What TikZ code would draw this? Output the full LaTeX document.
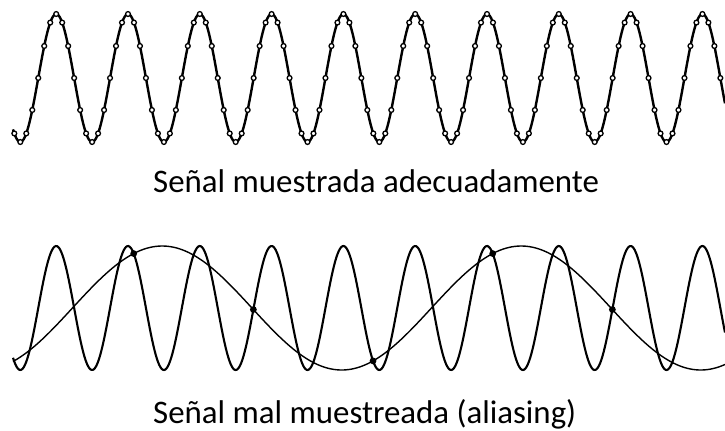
\documentclass[tikz,border=0pt]{standalone}
\usepackage{fontspec}
\setmainfont{Carlito}
\usetikzlibrary{positioning}
\tikzset{
  wave/.style={line width=2.1bp, black},
  alias/.style={line width=1.4bp, black},
  sample/.style={draw=black, fill=white, line width=1.3bp},
  hit/.style={fill=black},
  caption/.style={anchor=base west, inner sep=0pt, font=\fontsize{33}{36}\selectfont}
}
\newcommand{\per}{71.8}

\begin{document}
\begin{tikzpicture}[x=1bp, y=-1bp]
  \useasboundingbox (0,0) rectangle (725,430);

  % senal bien muestreada
  \draw[wave, line width=2.4bp, domain=13:725, samples=600]
    plot (\x, {78-64*cos(360/\per*(\x-128))});
  \foreach \k in {-1,...,117}
    \draw[sample] ({20.3+\k*\per/12}, {78+64*cos(30*\k)}) circle (2.4bp);

  \node[caption] (adecuada) at (153,192) {Señal muestrada adecuadamente};

  % senal mal muestreada
  \draw[wave, domain=13:725, samples=600]
    plot (\x, {308-62*cos(360/\per*(\x-128))});
  \draw[alias, domain=13:725, samples=300]
    plot (\x, {308-62*cos(72/\per*(\x-162.2))});
  \foreach \n in {0,...,4} {
    \pgfmathsetmacro{\xs}{133.7+\n*5*\per/3}
    \fill[hit] (\xs, {308-62*cos(360/\per*(\xs-128))}) circle (3.4bp);
  }

  \node[caption] (aliasing) at (153,423) {Señal mal muestreada (aliasing)};
\end{tikzpicture}
\end{document}
